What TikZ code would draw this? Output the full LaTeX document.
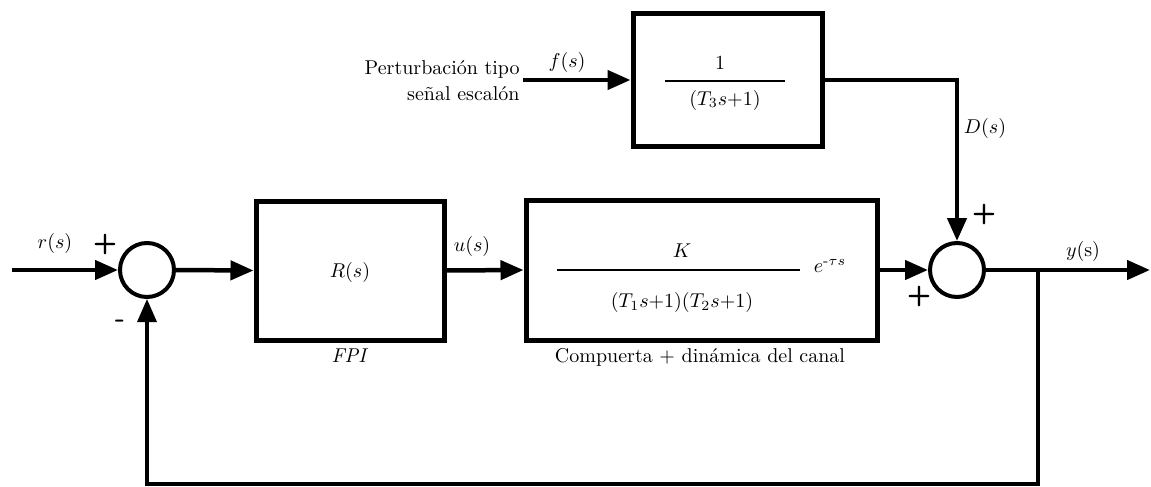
\documentclass[tikz,border=0pt]{standalone}
\usepackage{amsmath}
\usetikzlibrary{arrows.meta}
\begin{document}
\begin{tikzpicture}[x=1pt,y=-1pt,
  blk/.style={draw,line width=5pt,rectangle,inner sep=0pt},
  sumc/.style={draw,line width=4pt,circle,minimum size=54pt,inner sep=0pt},
  sig/.style={line width=4.5pt,-{Triangle[length=23pt,width=19pt]}},
  lbl/.style={scale=2,inner sep=0pt},
  sgn/.style={scale=2.8,font=\sffamily\bfseries,inner sep=0pt},
  frac/.style={line width=1.5pt}]
\useasboundingbox (0,0) rectangle (1151,487);
% blocks
\node[sumc] (s1) at (147,270) {};
\node[blk,minimum width=188pt,minimum height=139pt] (R) at (350,270.5) {};
\node[blk,minimum width=351pt,minimum height=140pt] (G) at (701.5,270) {};
\node[blk,minimum width=189pt,minimum height=133pt] (D) at (727.5,80) {};
\node[sumc] (s2) at (957,270) {};
\coordinate (in) at (12,270);
\coordinate (pin) at (523,80);
\coordinate (out) at (1150,270);
\coordinate (fb) at (1038,270);
% connectors
\draw[sig] (in) -- (s1.west);
\draw[sig] (s1.east) -- (R.west);
\draw[sig] (R.east) -- (G.west);
\draw[sig] (G.east) -- (s2.west);
\draw[sig] (s2.east) -- (out);
\draw[sig] (pin) -- (D.west);
\draw[sig] (D.east) -| (s2.north);
\draw[sig,line width=3.5pt] (fb) -- ++(0,214) -| (s1.south);
% texts
\node[lbl] (rl) at (55,243) {$r(s)$};
\node[sgn] (p1) at (105,244) {+};
\node[sgn] (m1) at (120,324) {-};
\node[lbl] (Rl) at (350,272) {$R(s)$};
\node[lbl] (ul) at (472,246) {$u(s)$};
\node[lbl] (fpi) at (350,356) {\textit{FPI}};
\node[lbl] (Kn) at (682,251) {$K$};
\draw[frac] (557,270) -- (800,270);
\node[lbl] (Kd) at (682,302) {$(T_1s{+}1)(T_2s{+}1)$};
\node[lbl] (ex) at (830,266) {$e^{\text{-}\tau s}$};
\node[lbl] (gl) at (700,357) {Compuerta + dinámica del canal};
\node[lbl] (Dn) at (720,63) {$1$};
\draw[frac] (665,81) -- (785,81);
\node[lbl] (Dd) at (725,100) {$(T_3s{+}1)$};
\node[lbl] (fl) at (567,62) {$f(s)$};
\node[lbl,align=right,anchor=east] (pert) at (520,81) {Perturbación tipo\\[1pt]señal escalón};
\node[lbl] (Dl) at (985,128) {$D(s)$};
\node[sgn] (p2) at (984,214) {+};
\node[sgn] (p3) at (919,296) {+};
\node[lbl] (yl) at (1083,251) {$y(\mathrm{s})$};
\end{tikzpicture}
\end{document}
